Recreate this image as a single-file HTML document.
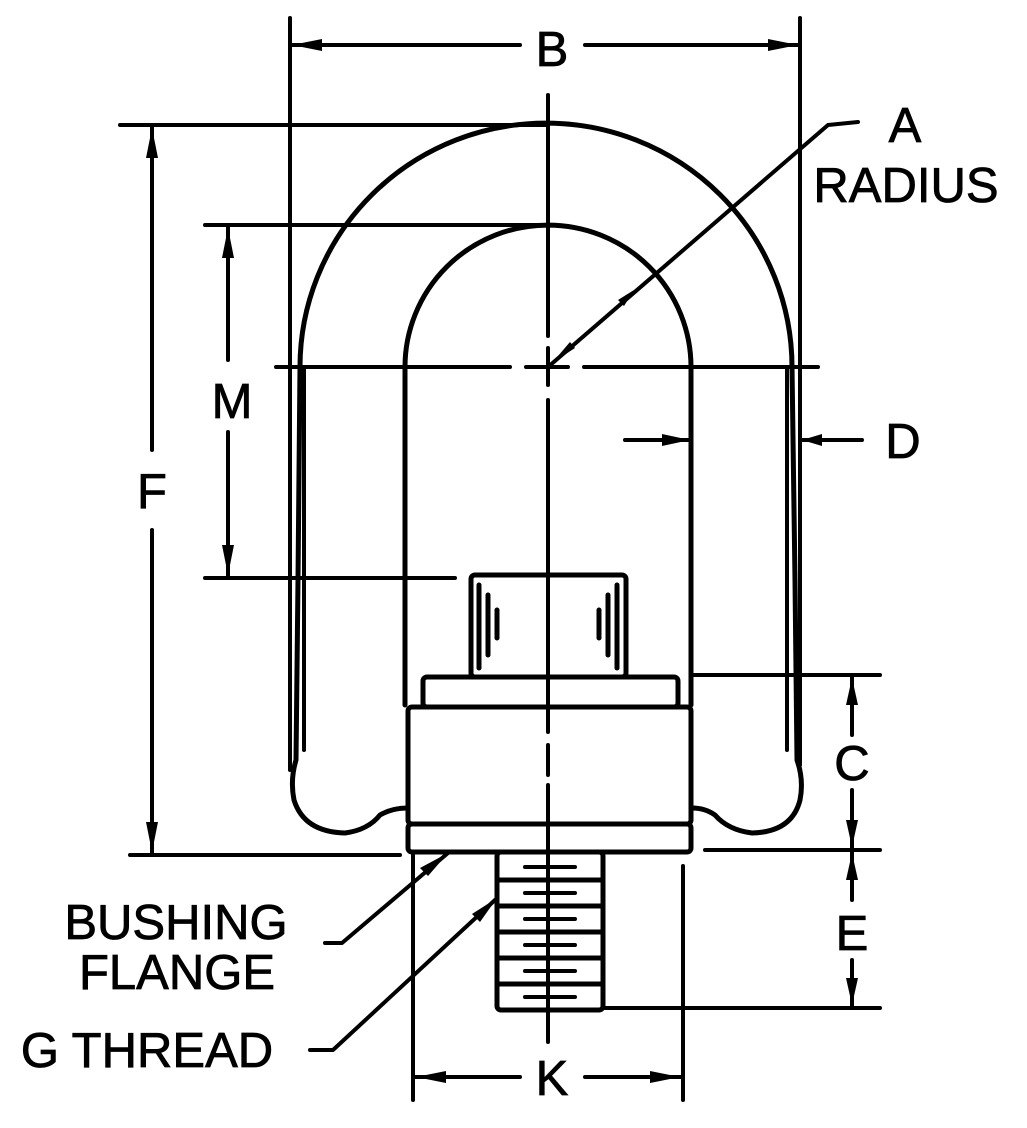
<!DOCTYPE html>
<html><head><meta charset="utf-8"><style>
html,body{margin:0;padding:0;background:#fff;}
svg{display:block}
text{font-family:"Liberation Sans",Arial,sans-serif;font-size:49px;fill:#000;stroke:#000;stroke-width:0.8}
</style></head><body>
<svg width="1027" height="1128" viewBox="0 0 1027 1128" xmlns="http://www.w3.org/2000/svg">
<g fill="none" stroke="#000" stroke-width="5" stroke-linecap="round" stroke-linejoin="round">
<!-- outer loop -->
<path d="M300 367 A246 244 0 0 1 792 367 L795 580 L797 760 Q804 780 800 800 Q792 832 752 833 Q728 830 715 815 Q705 808 692 808"/>
<path d="M300 367 L298 580 L296 760 Q290 780 294 800 Q304 832 345 833 Q368 830 380 815 Q392 808 408 808"/>
<line x1="304" y1="367" x2="304" y2="750" stroke-width="4"/>
<line x1="787" y1="367" x2="787" y2="750" stroke-width="4"/>
<!-- inner loop -->
<path d="M405 705 L405 367 A143 142 0 0 1 691 367 L691 705"/>
<!-- nut -->
<rect x="471" y="575" width="155" height="102" rx="4"/>
<rect x="423" y="677" width="255" height="30" rx="4"/>
<rect x="408" y="707" width="283" height="117" rx="4"/>
<rect x="408" y="824" width="283" height="28" rx="4"/>
<!-- thread -->
<rect x="497" y="852" width="106" height="158" rx="4"/>
<line x1="497" y1="880" x2="603" y2="880"/><line x1="497" y1="906" x2="603" y2="906"/>
<line x1="497" y1="932" x2="603" y2="932"/><line x1="497" y1="958" x2="603" y2="958"/>
<line x1="497" y1="984" x2="603" y2="984"/>
<g stroke-width="4">
<line x1="525" y1="867" x2="575" y2="867"/><line x1="525" y1="893" x2="575" y2="893"/>
<line x1="525" y1="919" x2="575" y2="919"/><line x1="525" y1="945" x2="575" y2="945"/>
<line x1="525" y1="971" x2="575" y2="971"/><line x1="525" y1="997" x2="575" y2="997"/>
</g>
<!-- nut shading -->
<g stroke-width="5">
<line x1="479" y1="585" x2="479" y2="668"/><line x1="488" y1="595" x2="488" y2="655"/>
<line x1="497" y1="610" x2="497" y2="638"/>
<line x1="617" y1="585" x2="617" y2="668"/><line x1="608" y1="595" x2="608" y2="655"/>
<line x1="599" y1="610" x2="599" y2="638"/>
</g>
<!-- centerlines -->
<g stroke-width="4">
<line x1="548" y1="95" x2="548" y2="336"/>
<line x1="548" y1="348" x2="548" y2="385"/>
<line x1="548" y1="400" x2="548" y2="732"/>
<line x1="548" y1="745" x2="548" y2="775"/>
<line x1="548" y1="785" x2="548" y2="1042"/>
<line x1="276" y1="367" x2="510" y2="367"/>
<line x1="526" y1="367" x2="568" y2="367"/>
<line x1="584" y1="367" x2="818" y2="367"/>
</g>
<g stroke-width="4">
<!-- B -->
<line x1="290" y1="18" x2="290" y2="770"/>
<line x1="800" y1="18" x2="800" y2="765"/>
<line x1="290" y1="45" x2="520" y2="45"/>
<line x1="585" y1="45" x2="800" y2="45"/>
<!-- F -->
<line x1="120" y1="125" x2="548" y2="125"/>
<line x1="130" y1="855" x2="400" y2="855"/>
<line x1="152" y1="125" x2="152" y2="450"/>
<line x1="152" y1="530" x2="152" y2="855"/>
<!-- M -->
<line x1="205" y1="225" x2="548" y2="225"/>
<line x1="205" y1="578" x2="455" y2="578"/>
<line x1="228" y1="225" x2="228" y2="360"/>
<line x1="228" y1="432" x2="228" y2="578"/>
<!-- A leader -->
<path d="M548 367 L828 125 L858 122"/>
<!-- D -->
<line x1="625" y1="440" x2="690" y2="440"/>
<line x1="800" y1="440" x2="862" y2="440"/>
<!-- C / E -->
<line x1="692" y1="675" x2="880" y2="675"/>
<line x1="705" y1="850" x2="880" y2="850"/>
<line x1="605" y1="1008" x2="880" y2="1008"/>
<line x1="852" y1="675" x2="852" y2="735"/>
<line x1="852" y1="790" x2="852" y2="900"/>
<line x1="852" y1="960" x2="852" y2="1008"/>
<!-- K -->
<line x1="413" y1="855" x2="413" y2="1100"/>
<line x1="683" y1="866" x2="683" y2="1100"/>
<line x1="413" y1="1077" x2="520" y2="1077"/>
<line x1="585" y1="1077" x2="683" y2="1077"/>
<!-- leaders -->
<path d="M325 943 L342 943 L448 853"/>
<path d="M310 1050 L333 1050 L495 900"/>
</g>
</g>
<g fill="#000">
<polygon points="292,45 322,39 322,51"/><polygon points="798,45 768,39 768,51"/>
<polygon points="152,128 146,158 158,158"/><polygon points="152,852 146,822 158,822"/>
<polygon points="228,228 222,258 234,258"/><polygon points="228,575 222,545 234,545"/>
<polygon points="552,363 575,348 570,342"/>
<polygon points="690,440 662,434 662,446"/><polygon points="802,440 822,434 822,446"/>
<polygon points="852,678 846,705 858,705"/><polygon points="852,847 846,820 858,820"/>
<polygon points="852,853 846,880 858,880"/><polygon points="852,1005 846,978 858,978"/>
<polygon points="416,1077 446,1071 446,1083"/><polygon points="680,1077 650,1071 650,1083"/>
<polygon points="448,853 420,868 428,876"/><polygon points="497,898 472,914 480,922"/>
<polygon points="634,290 618,300 624,306"/>
</g>
<text x="552" y="66" text-anchor="middle">B</text>
<text x="905" y="142" text-anchor="middle">A</text>
<text x="906" y="202" text-anchor="middle">RADIUS</text>
<text x="232" y="418" text-anchor="middle">M</text>
<text x="152" y="508" text-anchor="middle">F</text>
<text x="903" y="458" text-anchor="middle">D</text>
<text x="852" y="780" text-anchor="middle">C</text>
<text x="852" y="950" text-anchor="middle">E</text>
<text x="552" y="1095" text-anchor="middle">K</text>
<text x="176" y="939" text-anchor="middle">BUSHING</text>
<text x="177" y="989" text-anchor="middle">FLANGE</text>
<text x="147" y="1067" text-anchor="middle">G THREAD</text>
</svg>
</body></html>
